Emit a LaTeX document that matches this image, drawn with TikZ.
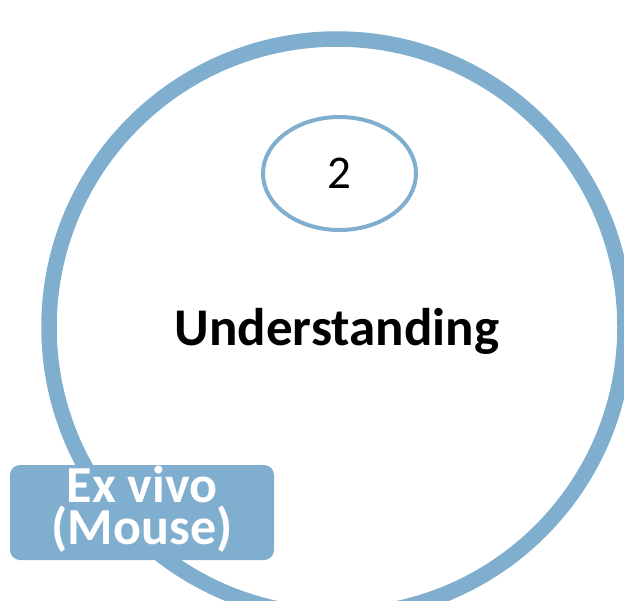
\documentclass[tikz,border=0pt]{standalone}
\usepackage{fontspec}
\setmainfont{Carlito}
\definecolor{ringblue}{RGB}{127,174,206}
\begin{document}
\begin{tikzpicture}[x=1pt,y=-1pt,
  ring/.style={draw=ringblue,line width=15.5pt},
  smallring/.style={draw=ringblue,line width=4pt},
  label/.style={inner sep=0pt,anchor=base},
  tag/.style={fill=ringblue,rounded corners=10pt}]
\useasboundingbox (0,0) rectangle (624,600);
\begin{scope}
\clip (0,0) rectangle (624,600);
\draw[ring] (337,327) circle[radius=288];
\end{scope}
\draw[smallring] (339.5,173.5) ellipse[x radius=76.5,y radius=56.5];
\node[label,font=\fontsize{47}{47}\selectfont] (two) at (339,188) {2};
\node[label,font=\fontsize{53}{53}\selectfont\bfseries] (und) at (337,345) {Understanding};
\fill[tag] (10,465) rectangle (274,560);
\node[inner sep=0pt,align=center,text=white,font=\fontsize{52}{42}\selectfont\bfseries] (ex) at (142,509) {Ex vivo\\(Mouse)};
\end{tikzpicture}
\end{document}
